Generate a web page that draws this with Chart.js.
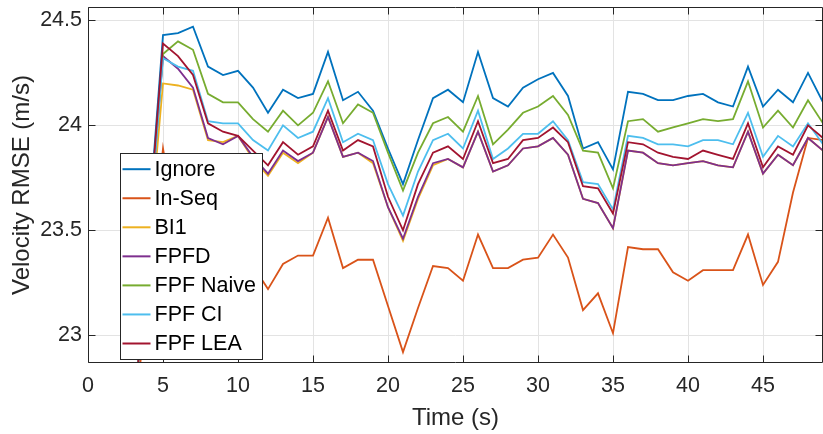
<!DOCTYPE html>
<html>
<head>
<meta charset="utf-8">
<script src="https://cdn.jsdelivr.net/npm/chart.js@4.4.1/dist/chart.umd.min.js"></script>
<style>
  html, body { margin: 0; padding: 0; background: #fff; }
  #chart { display: block; }
</style>
</head>
<body>
<canvas id="chart" width="823" height="434"></canvas>
<script>
// time axis (s), one sample per second
const times = [3, 4, 5, 6, 7, 8, 9, 10, 11, 12, 13, 14, 15, 16, 17, 18, 19, 20, 21, 22, 23, 24, 25, 26,
  27, 28, 29, 30, 31, 32, 33, 34, 35, 36, 37, 38, 39, 40, 41, 42, 43, 44, 45, 46, 47, 48, 49];

const labels = ["Ignore", "In-Seq", "BI1", "FPFD", "FPF Naive", "FPF CI", "FPF LEA"];
const colors = ["#0072BD", "#D95319", "#EDB120", "#7E2F8E", "#77AC30", "#4DBEEE", "#A2142F"];

const ignore = [22.54, 23.49, 24.43, 24.44, 24.47, 24.28, 24.24, 24.26, 24.18, 24.06, 24.17, 24.13, 24.15, 24.35,
  24.12, 24.16, 24.07, 23.89, 23.72, 23.93, 24.13, 24.17, 24.11, 24.35, 24.13, 24.09, 24.18, 24.22, 24.25, 24.14,
  23.89, 23.92, 23.79, 24.16, 24.15, 24.12, 24.12, 24.14, 24.15, 24.11, 24.09, 24.28, 24.09, 24.17, 24.11, 24.25, 24.11];
const inSeq = [22.54, 23.21, 23.89, 23.46, 23.40, 23.31, 23.33, 23.35, 23.33, 23.22, 23.34, 23.38, 23.38, 23.56,
  23.32, 23.36, 23.36, 23.14, 22.92, 23.13, 23.33, 23.32, 23.26, 23.48, 23.32, 23.32, 23.36, 23.37, 23.48, 23.37,
  23.12, 23.20, 23.01, 23.42, 23.41, 23.41, 23.30, 23.26, 23.31, 23.31, 23.31, 23.48, 23.24, 23.35, 23.68, 23.94, 23.93];
const bi1 = [22.59, 23.39, 24.20, 24.19, 24.17, 23.93, 23.92, 23.95, 23.84, 23.76, 23.87, 23.82, 23.87, 24.04,
  23.85, 23.87, 23.82, 23.61, 23.45, 23.65, 23.81, 23.84, 23.80, 23.97, 23.78, 23.81, 23.89, 23.90, 23.94, 23.86,
  23.65, 23.63, 23.51, 23.88, 23.87, 23.82, 23.81, 23.82, 23.83, 23.81, 23.80, 23.97, 23.77, 23.86, 23.81, 23.94, 23.88];
const fpfd = [22.56, 23.45, 24.33, 24.27, 24.18, 23.94, 23.91, 23.95, 23.85, 23.77, 23.88, 23.83, 23.87, 24.04,
  23.85, 23.87, 23.83, 23.61, 23.46, 23.66, 23.82, 23.84, 23.80, 23.97, 23.78, 23.81, 23.89, 23.90, 23.94, 23.86,
  23.65, 23.63, 23.51, 23.88, 23.87, 23.82, 23.81, 23.82, 23.83, 23.81, 23.80, 23.97, 23.77, 23.86, 23.81, 23.94, 23.88];
const fpfNaive = [22.56, 23.45, 24.34, 24.40, 24.36, 24.15, 24.11, 24.11, 24.03, 23.97, 24.07, 24.00, 24.06, 24.21,
  24.01, 24.10, 24.06, 23.87, 23.69, 23.87, 24.01, 24.04, 23.97, 24.14, 23.91, 23.98, 24.06, 24.09, 24.14, 24.05,
  23.88, 23.87, 23.70, 24.02, 24.03, 23.97, 23.99, 24.01, 24.03, 24.02, 24.03, 24.21, 23.99, 24.07, 23.99, 24.12, 24.01];
const fpfCI = [22.56, 23.44, 24.32, 24.28, 24.26, 24.02, 24.01, 24.01, 23.93, 23.88, 24.00, 23.94, 23.97, 24.13,
  23.92, 23.96, 23.93, 23.72, 23.57, 23.78, 23.93, 23.96, 23.89, 24.07, 23.84, 23.89, 23.96, 23.96, 24.02, 23.93,
  23.73, 23.72, 23.60, 23.95, 23.94, 23.91, 23.91, 23.90, 23.93, 23.93, 23.91, 24.06, 23.85, 23.95, 23.90, 24.01, 23.91];
const fpfLEA = [22.55, 23.47, 24.39, 24.33, 24.24, 24.01, 23.97, 23.95, 23.88, 23.81, 23.92, 23.86, 23.90, 24.07,
  23.88, 23.93, 23.90, 23.66, 23.50, 23.72, 23.87, 23.90, 23.84, 24.02, 23.82, 23.84, 23.93, 23.94, 23.99, 23.92,
  23.71, 23.70, 23.58, 23.92, 23.91, 23.87, 23.85, 23.84, 23.88, 23.86, 23.84, 24.01, 23.80, 23.90, 23.86, 24.00, 23.94];

const xTicks = [0, 5, 10, 15, 20, 25, 30, 35, 40, 45];
const yTicks = [23, 23.5, 24, 24.5];

const series = [ignore, inSeq, bi1, fpfd, fpfNaive, fpfCI, fpfLEA];
const FONT = "'Liberation Sans', Arial, Helvetica, sans-serif";
const AXIS = "#262626";

// MATLAB style frame with inward ticks on all four sides
const framePlugin = {
  id: "frame",
  afterDatasetsDraw(chart) {
    const { ctx, chartArea: a, scales } = chart;
    const L = Math.round(a.left) + 0.5, R = Math.round(a.right) - 0.5;
    const T = Math.round(a.top) + 0.5, B = Math.round(a.bottom) - 0.5;
    ctx.save();
    ctx.strokeStyle = AXIS;
    ctx.lineWidth = 1;
    ctx.beginPath();
    ctx.rect(L, T, R - L, B - T);
    const tl = 7;
    xTicks.forEach(v => {
      const x = Math.round(scales.x.getPixelForValue(v)) + 0.5;
      ctx.moveTo(x, B); ctx.lineTo(x, B - tl);
      ctx.moveTo(x, T); ctx.lineTo(x, T + tl);
    });
    yTicks.forEach(v => {
      const y = Math.round(scales.y.getPixelForValue(v)) + 0.5;
      ctx.moveTo(L, y); ctx.lineTo(L + tl, y);
      ctx.moveTo(R, y); ctx.lineTo(R - tl, y);
    });
    ctx.stroke();
    ctx.restore();
  }
};

// legend box inside the axes (lower left)
const legendPlugin = {
  id: "boxLegend",
  afterDraw(chart) {
    const { ctx, chartArea: a } = chart;
    const w = a.right - a.left, h = a.bottom - a.top;
    const x0 = Math.round(a.left + 0.0441 * w) + 0.5;
    const y0 = Math.round(a.top + 0.411 * h) + 0.5;
    const x1 = Math.round(a.left + 0.2368 * w) + 0.5;
    const y1 = Math.round(a.top + 0.988 * h) + 0.5;
    ctx.save();
    ctx.fillStyle = "#fff";
    ctx.fillRect(x0, y0, x1 - x0, y1 - y0);
    ctx.strokeStyle = AXIS;
    ctx.lineWidth = 1;
    ctx.strokeRect(x0, y0, x1 - x0, y1 - y0);
    ctx.font = "21.5px " + FONT;
    ctx.textBaseline = "middle";
    ctx.textAlign = "left";
    const rowH = 29.05;
    chart.data.datasets.forEach((ds, i) => {
      const y = y0 + 15.7 + i * rowH;
      ctx.strokeStyle = ds.borderColor;
      ctx.lineWidth = 2;
      ctx.beginPath();
      ctx.moveTo(x0 + 2, y);
      ctx.lineTo(x0 + 30, y);
      ctx.stroke();
      ctx.fillStyle = "#000";
      ctx.fillText(ds.label, x0 + 34, y + 1);
    });
    ctx.restore();
  }
};

const datasets = series.map((vals, i) => ({
  label: labels[i],
  data: vals.map((v, k) => ({ x: times[k], y: v })),
  borderColor: colors[i],
  backgroundColor: colors[i],
  borderWidth: 1.8,
  pointRadius: 0,
  tension: 0,
  fill: false,
  clip: 0,
  order: series.length - 1 - i
}));

Chart.defaults.font.family = FONT;
Chart.defaults.color = AXIS;

new Chart(document.getElementById("chart"), {
  type: "line",
  data: { datasets: datasets },
  options: {
    responsive: false,
    animation: false,
    layout: { padding: { top: 7, right: 0, left: 0, bottom: 0 } },
    plugins: { legend: { display: false }, tooltip: { enabled: false } },
    scales: {
      x: {
        type: "linear",
        min: 0,
        max: 49,
        afterBuildTicks: s => { s.ticks = xTicks.map(v => ({ value: v })); },
        afterFit: s => { s.height = 71; s.paddingLeft = 0; s.paddingRight = 0; },
        grid: { color: "#e3e3e3", drawTicks: false },
        border: { display: false },
        ticks: { font: { size: 21.5 }, padding: 10, maxRotation: 0, color: AXIS },
        title: { display: true, text: "Time (s)", font: { size: 24 }, padding: { top: 0, bottom: 1 }, color: AXIS }
      },
      y: {
        type: "linear",
        min: 22.868,
        max: 24.564,
        afterBuildTicks: s => { s.ticks = yTicks.map(v => ({ value: v })); },
        afterFit: s => { s.width = 88; s.paddingTop = 0; s.paddingBottom = 0; },
        grid: { color: "#e3e3e3", drawTicks: false },
        border: { display: false },
        ticks: { font: { size: 21.5 }, padding: 6, color: AXIS, callback: v => String(v) },
        title: { display: true, text: "Velocity RMSE (m/s)", font: { size: 24 }, padding: { top: 8, bottom: 0 }, color: AXIS }
      }
    }
  },
  plugins: [framePlugin, legendPlugin]
});
</script>
</body>
</html>
